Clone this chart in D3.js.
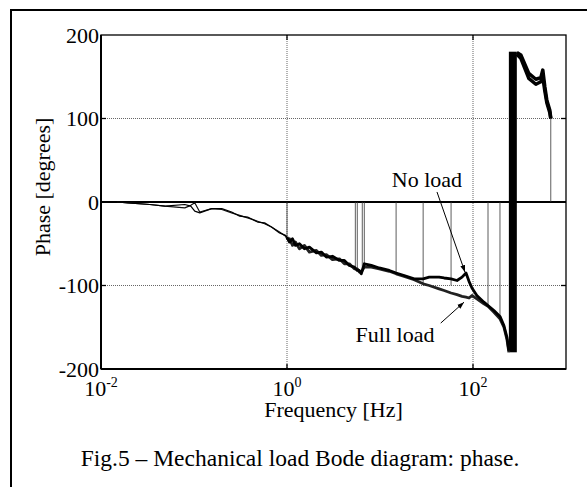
<!DOCTYPE html>
<html>
<head>
<meta charset="utf-8">
<script src="https://cdn.jsdelivr.net/npm/d3@7"></script>
<style>
  body { margin: 0; background: #fff; }
  text { font-family: "Liberation Serif", "Times New Roman", serif; fill: #000; }
</style>
</head>
<body>
<div id="chartArea"></div>
<script>
// phase response (Hz, degrees)
const freq = [0.0149, 0.0195, 0.0335, 0.0486, 0.0796, 0.0923, 0.1019, 0.1153, 0.155, 0.199,
  0.254, 0.31, 0.377, 0.483, 0.574, 0.681, 0.831, 0.965, 1.0, 1.064,
  1.146, 1.233, 1.36, 1.54, 1.74, 2.07, 2.34, 2.65, 3.08, 3.66,
  4.14, 4.68, 5.3, 5.7, 5.99, 6.29, 6.78, 8.06, 9.82, 12.6,
  14.9, 18.2, 23.3, 29.1, 33.8, 43.2, 48.9, 58.1, 67.3, 76.2,
  84.1, 90.6, 97.5, 110, 131, 145, 168, 195, 215, 232, 243]
const phaseNoLoad = [0, -1, -3, -5, -3, -5, -11, -13, -8, -8,
  -12, -17, -18, -24, -25, -30, -37, -40, -42, -48,
  -44, -52, -50, -56, -54, -61, -60, -66, -65, -70,
  -70, -76, -78, -82, -82, -86, -74, -76, -79, -82,
  -85, -88, -92, -92, -90, -90, -91, -92, -94, -90,
  -85, -95, -103, -112, -120, -124, -130, -137, -148, -162, -178]
const phaseFullLoad = [0, -1, -3, -5, -7, -4, -1, -12, -8, -9,
  -13, -16, -19, -23, -26, -30, -36, -41, -45, -44,
  -52, -48, -56, -52, -60, -58, -64, -63, -69, -68,
  -74, -74, -80, -80, -84, -84, -78, -78, -80, -83,
  -86, -89, -93, -98, -100, -104, -106, -109, -111, -113,
  -114, -115, -112, -116, -122, -125, -132, -140, -150, -165, -180]

// branch after the phase wrap
const freqHigh = [296, 327, 398, 474, 536, 563, 592, 622, 670, 686]
const phaseNoLoadHigh = [179, 176, 154, 147, 149, 158, 138, 122, 110, 100]
const phaseFullLoadHigh = [177, 172, 148, 141, 144, 150, 133, 119, 107, 100]

// band where the phase wraps back and forth
const wrapFreq = [243, 296]
const wrapPhase = [-180, 180]

// single-sample glitches that jump to 0 deg
const spikeFreq = [1.0, 5.43, 5.7, 6.45, 6.78, 14.9, 29.1, 58.1, 145, 195, 686]
const spikePhase = [-42, -79, -82, -85, -76, -85, -97, -100, -124, -137, 100]

const xTicks = [0.01, 1, 100]
const xTickExp = ['-2', '0', '2']
const yTicks = [-200, -100, 0, 100, 200]
const yGrid = [-100, 100]
const xGrid = [1, 100]

let margin = {top: 35, right: 21, bottom: 118, left: 101}
let width = 587
let height = 487
let innerWidth = width - margin.left - margin.right
let innerHeight = height - margin.top - margin.bottom

const svg = d3.select('#chartArea')
              .append('svg')
              .attr('width', width)
              .attr('height', height)

// figure frame
svg.append('path')
   .attr('d', 'M11,' + (height + 5) + 'V10H' + (width + 5))
   .attr('fill', 'none')
   .attr('stroke', '#000')
   .attr('stroke-width', 2)

const g = svg.append('g').attr('transform', 'translate(' + margin.left + ',' + margin.top + ')')

let x = d3.scaleLog().domain([0.01, 1000]).range([0, innerWidth])
let y = d3.scaleLinear().domain([-200, 200]).range([innerHeight, 0])

// grid
g.selectAll('.xgrid').data(xGrid).enter().append('line')
  .attr('x1', d => x(d)).attr('x2', d => x(d))
  .attr('y1', 0).attr('y2', innerHeight)
  .attr('stroke', '#666').attr('stroke-width', 1).attr('stroke-dasharray', '1,1')
g.selectAll('.ygrid').data(yGrid).enter().append('line')
  .attr('y1', d => y(d)).attr('y2', d => y(d))
  .attr('x1', 0).attr('x2', innerWidth)
  .attr('stroke', '#666').attr('stroke-width', 1).attr('stroke-dasharray', '1,1')

// zero line
g.append('line')
  .attr('x1', 0).attr('x2', innerWidth)
  .attr('y1', y(0)).attr('y2', y(0))
  .attr('stroke', '#000').attr('stroke-width', 2)

// glitches
g.selectAll('.spike').data(spikeFreq).enter().append('line')
  .attr('x1', d => x(d)).attr('x2', d => x(d))
  .attr('y1', y(0)).attr('y2', (d, i) => y(spikePhase[i]))
  .attr('stroke', '#333').attr('stroke-width', 0.8)

// wrap band
g.append('rect')
  .attr('x', x(wrapFreq[0]))
  .attr('width', x(wrapFreq[1]) - x(wrapFreq[0]))
  .attr('y', y(wrapPhase[1]))
  .attr('height', y(wrapPhase[0]) - y(wrapPhase[1]))
  .attr('fill', '#000')

let line = d3.line().x(d => x(d[0])).y(d => y(d[1]))

function series(fs, ps, color, w) {
  g.append('path')
    .datum(fs.map((f, i) => [f, ps[i]]))
    .attr('d', line)
    .attr('fill', 'none')
    .attr('stroke', color)
    .attr('stroke-width', w)
    .attr('stroke-linejoin', 'round')
}
// thin below 1 Hz, noisy (thick) band above
let lo = freq.filter(f => f <= 1).length
series(freq.slice(0, lo), phaseFullLoad.slice(0, lo), '#111', 1.2)
series(freq.slice(0, lo), phaseNoLoad.slice(0, lo), '#000', 1.2)
series(freq.slice(lo - 1), phaseFullLoad.slice(lo - 1), '#222', 2.8)
series(freq.slice(lo - 1), phaseNoLoad.slice(lo - 1), '#000', 2.8)
series(freqHigh, phaseFullLoadHigh, '#000', 3.5)
series(freqHigh, phaseNoLoadHigh, '#000', 3.5)

// plot box
g.append('rect')
  .attr('width', innerWidth).attr('height', innerHeight)
  .attr('fill', 'none').attr('stroke', '#000').attr('stroke-width', 1.3)
g.append('line').attr('x1', 0).attr('x2', 0).attr('y1', 0).attr('y2', innerHeight)
  .attr('stroke', '#000').attr('stroke-width', 2)
g.append('line').attr('x1', 0).attr('x2', innerWidth).attr('y1', innerHeight).attr('y2', innerHeight)
  .attr('stroke', '#000').attr('stroke-width', 2)

// inner ticks
xGrid.forEach(d => {
  g.append('line').attr('x1', x(d)).attr('x2', x(d)).attr('y1', 0).attr('y2', 5).attr('stroke', '#000').attr('stroke-width', 1.3)
  g.append('line').attr('x1', x(d)).attr('x2', x(d)).attr('y1', innerHeight).attr('y2', innerHeight - 5).attr('stroke', '#000').attr('stroke-width', 1.3)
})
yGrid.concat([0]).forEach(d => {
  g.append('line').attr('x1', 0).attr('x2', 5).attr('y1', y(d)).attr('y2', y(d)).attr('stroke', '#000').attr('stroke-width', 1.3)
  g.append('line').attr('x1', innerWidth).attr('x2', innerWidth - 5).attr('y1', y(d)).attr('y2', y(d)).attr('stroke', '#000').attr('stroke-width', 1.3)
})

// tick labels
g.selectAll('.ylab').data(yTicks).enter().append('text')
  .attr('x', -2).attr('y', d => y(d)).attr('dy', '0.35em')
  .attr('text-anchor', 'end').style('font-size', '22px')
  .text(d => d)

let xl = g.selectAll('.xlab').data(xTicks).enter().append('text')
  .attr('x', d => x(d)).attr('y', innerHeight + 27)
  .attr('text-anchor', 'middle').style('font-size', '22px')
xl.append('tspan').text('10')
xl.append('tspan').attr('dy', -9).style('font-size', '14px').text((d, i) => xTickExp[i])

// axis titles
g.append('text')
  .attr('x', innerWidth / 2).attr('y', innerHeight + 48)
  .attr('text-anchor', 'middle').style('font-size', '22px')
  .text('Frequency [Hz]')
g.append('text')
  .attr('transform', 'translate(' + (50 - margin.left) + ',' + (187 - margin.top) + ') rotate(-90)')
  .attr('text-anchor', 'middle').style('font-size', '22px')
  .text('Phase [degrees]')

// annotations
svg.append('defs').append('marker')
  .attr('id', 'arr').attr('viewBox', '0 0 10 10').attr('refX', 10).attr('refY', 5)
  .attr('markerWidth', 7).attr('markerHeight', 7).attr('orient', 'auto')
  .append('path').attr('d', 'M0,1.5L10,5L0,8.5Z').attr('fill', '#000')

g.append('text').attr('x', x(32)).attr('y', y(18)).attr('text-anchor', 'middle')
  .style('font-size', '22px').text('No load')
g.append('line')
  .attr('x1', x(41)).attr('y1', y(12)).attr('x2', x(82)).attr('y2', y(-84))
  .attr('stroke', '#000').attr('stroke-width', 1).attr('marker-end', 'url(#arr)')
g.append('text').attr('x', x(14.5)).attr('y', y(-168)).attr('text-anchor', 'middle')
  .style('font-size', '22px').text('Full load')
g.append('line')
  .attr('x1', x(45)).attr('y1', y(-145)).attr('x2', x(80)).attr('y2', y(-120))
  .attr('stroke', '#000').attr('stroke-width', 1).attr('marker-end', 'url(#arr)')

// caption
svg.append('text')
  .attr('x', 300).attr('y', 466)
  .attr('text-anchor', 'middle').style('font-size', '23.5px')
  .text('Fig.5 \u2013 Mechanical load Bode diagram: phase.')
</script>
</body>
</html>
